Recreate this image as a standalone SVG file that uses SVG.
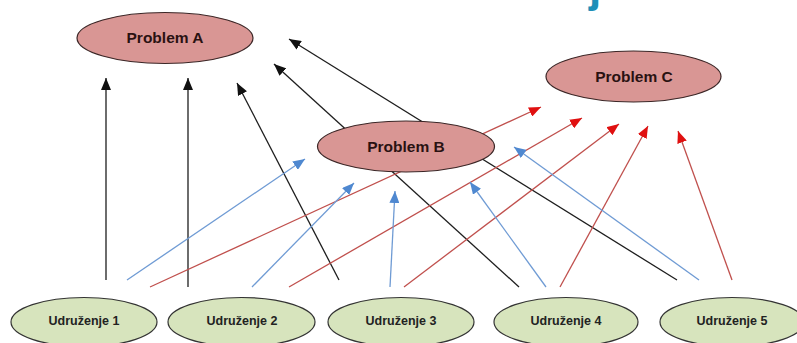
<svg xmlns="http://www.w3.org/2000/svg" width="797" height="343" viewBox="0 0 797 343">
<style>
.prob{fill:#d99694;stroke:#3b2626;stroke-width:1.2}
.ud{fill:#d7e4bd;stroke:#333;stroke-width:1.2}
.pt{font-family:"Liberation Sans",Arial,sans-serif;font-weight:bold;font-size:15.5px;fill:#2a1212;text-anchor:middle}
.ut{font-family:"Liberation Sans",Arial,sans-serif;font-weight:bold;font-size:12.5px;fill:#222;text-anchor:middle}
.k{stroke:#1e1e1e;stroke-width:1.3;fill:none;marker-end:url(#ak)}
.r{stroke:#c0504d;stroke-width:1.3;fill:none;marker-end:url(#ar)}
.b{stroke:#6f9bd4;stroke-width:1.3;fill:none;marker-end:url(#ab)}
</style>
<defs>
<marker id="ak" markerUnits="userSpaceOnUse" markerWidth="12" markerHeight="10" refX="12" refY="5" orient="auto"><path d="M0,0 L12,5 L0,10 z" fill="#111"/></marker>
<marker id="ar" markerUnits="userSpaceOnUse" markerWidth="12" markerHeight="10" refX="12" refY="5" orient="auto"><path d="M0,0 L12,5 L0,10 z" fill="#e01010"/></marker>
<marker id="ab" markerUnits="userSpaceOnUse" markerWidth="12" markerHeight="10" refX="12" refY="5" orient="auto"><path d="M0,0 L12,5 L0,10 z" fill="#4f88d0"/></marker>
</defs>
<rect width="797" height="343" fill="#fff"/>
<text x="589" y="2" font-family="Liberation Sans,Arial,sans-serif" font-weight="bold" font-size="44" fill="#1e8fb8">j</text>
<g id="connectors">
<line class="k" x1="106" y1="280" x2="106" y2="78"/>
<line class="k" x1="188" y1="287" x2="188" y2="78"/>
<line class="k" x1="339" y1="280" x2="237" y2="83"/>
<line class="k" x1="519" y1="287" x2="274" y2="64"/>
<line class="k" x1="677" y1="280" x2="289" y2="39"/>
<line class="r" x1="150" y1="287" x2="541" y2="107"/>
<line class="r" x1="289" y1="287" x2="582" y2="118"/>
<line class="r" x1="404" y1="287" x2="619" y2="124"/>
<line class="r" x1="560" y1="287" x2="648" y2="126"/>
<line class="r" x1="732" y1="280" x2="678" y2="131"/>
<line class="b" x1="127" y1="280" x2="305" y2="159"/>
<line class="b" x1="252" y1="287" x2="354" y2="183"/>
<line class="b" x1="390" y1="287" x2="395" y2="191"/>
<line class="b" x1="546" y1="287" x2="470" y2="182"/>
<line class="b" x1="699" y1="280" x2="514" y2="147"/>
</g>
<g id="problemA"><ellipse class="prob" cx="165" cy="38" rx="88" ry="25.5"/><text class="pt" x="165" y="43">Problem  A</text></g>
<g id="problemB"><ellipse class="prob" cx="406" cy="146.5" rx="88.5" ry="25.5"/><text class="pt" x="406" y="152">Problem B</text></g>
<g id="problemC"><ellipse class="prob" cx="633.5" cy="76.5" rx="87.5" ry="25.5"/><text class="pt" x="634" y="82">Problem C</text></g>
<g id="u1"><ellipse class="ud" cx="84" cy="322" rx="73" ry="24.5"/><text class="ut" x="84" y="325">Udruženje 1</text></g>
<g id="u2"><ellipse class="ud" cx="241.5" cy="322" rx="73.5" ry="24.5"/><text class="ut" x="242" y="325">Udruženje 2</text></g>
<g id="u3"><ellipse class="ud" cx="401" cy="322" rx="73" ry="24.5"/><text class="ut" x="401" y="325">Udruženje 3</text></g>
<g id="u4"><ellipse class="ud" cx="566" cy="322" rx="72" ry="24.5"/><text class="ut" x="566" y="325">Udruženje 4</text></g>
<g id="u5"><ellipse class="ud" cx="732" cy="322" rx="72" ry="24.5"/><text class="ut" x="732" y="325">Udruženje 5</text></g>
</svg>
